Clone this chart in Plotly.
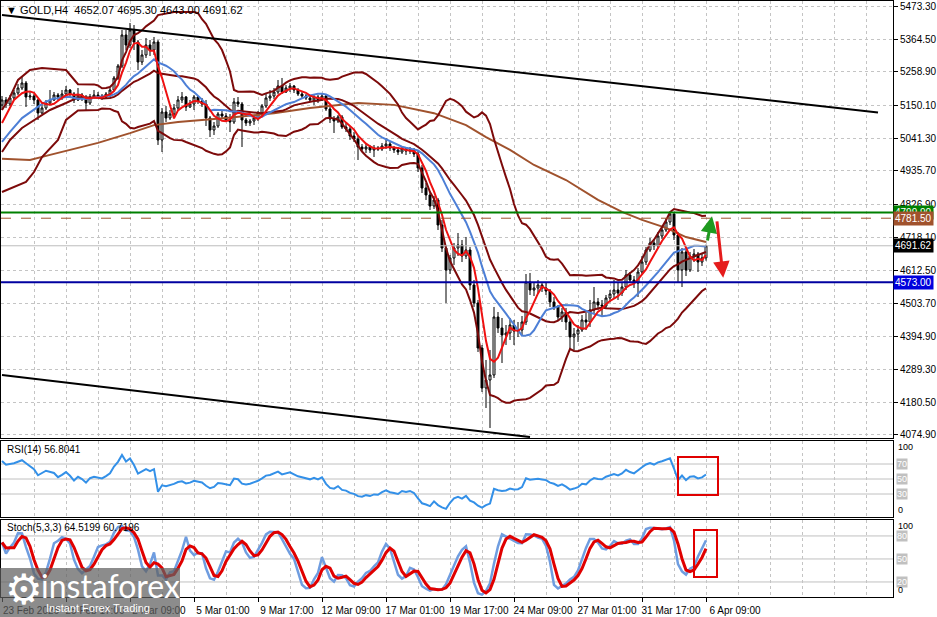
import pandas as pd
import plotly.graph_objects as go
from plotly.subplots import make_subplots

# ---------------- data (GOLD, H4) ----------------
opens = [
    5150.6, 5166.9, 5153.8, 5173.4, 5189.7, 5206.0, 5222.3, 5176.6, 5179.9, 5166.9,
    5124.5, 5140.8, 5157.1, 5166.9, 5183.2, 5176.6, 5186.4, 5199.5, 5186.4, 5166.9,
    5183.2, 5173.4, 5157.1, 5176.6, 5183.2, 5179.9, 5176.6, 5186.4, 5199.5, 5238.6,
    5277.7, 5378.8, 5346.2, 5395.1, 5355.9, 5290.7, 5313.6, 5346.2, 5329.9, 5355.9,
    5036.5, 5127.7, 5108.2, 5121.2, 5140.8, 5166.9, 5176.6, 5144.0, 5153.8, 5176.6,
    5163.6, 5153.8, 5108.2, 5069.1, 5082.1, 5121.2, 5114.7, 5101.7, 5095.1, 5160.3,
    5153.8, 5101.7, 5091.9, 5098.4, 5108.2, 5124.5, 5147.3, 5173.4, 5179.9, 5192.9,
    5212.5, 5192.9, 5206.0, 5212.5, 5199.5, 5186.4, 5179.9, 5173.4, 5166.9, 5176.6,
    5166.9, 5179.9, 5137.5, 5104.9, 5098.4, 5111.4, 5078.8, 5072.3, 5049.5, 5039.7,
    5013.6, 5007.1, 5013.6, 5003.9, 5010.4, 5007.1, 5016.9, 5023.4, 5010.4, 5003.9,
    4997.3, 5007.1, 5000.6, 5003.9, 4990.8, 4945.2, 4880.0, 4857.2, 4821.3, 4840.9,
    4759.4, 4684.4, 4612.7, 4651.8, 4684.4, 4694.2, 4658.3, 4677.9, 4563.8, 4505.1,
    4358.4, 4228.0, 4254.1, 4270.4, 4459.4, 4423.6, 4400.8, 4407.3, 4433.4, 4413.8,
    4417.1, 4443.1, 4573.5, 4547.5, 4554.0, 4563.8, 4554.0, 4544.2, 4508.4, 4492.1,
    4459.4, 4475.7, 4443.1, 4394.3, 4404.0, 4417.1, 4449.7, 4443.1, 4482.3, 4508.4,
    4498.6, 4495.3, 4521.4, 4534.4, 4547.5, 4537.7, 4557.2, 4596.4, 4580.1, 4570.3,
    4606.1, 4638.7, 4677.9, 4700.7, 4690.9, 4723.5, 4743.1, 4769.2, 4795.2, 4726.8,
    4612.7, 4671.4, 4612.7, 4658.3, 4664.8, 4638.7, 4652.07,
]
highs = [
    5179.9, 5176.6, 5183.2, 5199.5, 5219.0, 5241.8, 5228.8, 5192.9, 5186.4, 5170.1,
    5153.8, 5166.9, 5199.5, 5192.9, 5189.7, 5199.5, 5212.5, 5202.7, 5192.9, 5206.0,
    5189.7, 5183.2, 5186.4, 5199.5, 5192.9, 5186.4, 5192.9, 5206.0, 5245.1, 5284.2,
    5395.1, 5395.1, 5417.9, 5411.4, 5362.5, 5329.9, 5369.0, 5362.5, 5372.3, 5362.5,
    5140.8, 5147.3, 5134.3, 5153.8, 5179.9, 5192.9, 5179.9, 5166.9, 5183.2, 5179.9,
    5173.4, 5166.9, 5114.7, 5095.1, 5127.7, 5131.0, 5124.5, 5121.2, 5173.4, 5176.6,
    5160.3, 5108.2, 5104.9, 5114.7, 5131.0, 5153.8, 5189.7, 5199.5, 5206.0, 5232.1,
    5238.6, 5215.8, 5222.3, 5215.8, 5206.0, 5192.9, 5186.4, 5179.9, 5183.2, 5183.2,
    5189.7, 5183.2, 5144.0, 5114.7, 5118.0, 5118.0, 5091.9, 5082.1, 5062.5, 5052.8,
    5023.4, 5023.4, 5020.2, 5020.2, 5016.9, 5026.7, 5043.0, 5029.9, 5016.9, 5013.6,
    5016.9, 5013.6, 5013.6, 5010.4, 5000.6, 4955.0, 4896.3, 4867.0, 4853.9, 4847.4,
    4775.7, 4694.2, 4661.6, 4700.7, 4733.3, 4710.5, 4720.3, 4687.6, 4580.1, 4514.9,
    4368.2, 4319.3, 4351.9, 4492.1, 4475.7, 4456.2, 4433.4, 4456.2, 4449.7, 4443.1,
    4462.7, 4599.6, 4602.9, 4573.5, 4580.1, 4573.5, 4570.3, 4550.7, 4524.7, 4498.6,
    4488.8, 4488.8, 4456.2, 4423.6, 4433.4, 4465.9, 4472.5, 4514.9, 4557.2, 4521.4,
    4514.9, 4531.2, 4547.5, 4580.1, 4570.3, 4573.5, 4612.7, 4606.1, 4593.1, 4619.2,
    4658.3, 4687.6, 4717.0, 4710.5, 4736.6, 4756.1, 4782.2, 4800.0, 4797.0, 4736.6,
    4684.4, 4677.9, 4671.4, 4681.1, 4671.4, 4668.1, 4695.30,
]
lows = [
    5134.3, 5140.8, 5147.3, 5166.9, 5183.2, 5199.5, 5144.0, 5166.9, 5153.8, 5101.7,
    5121.2, 5134.3, 5150.6, 5163.6, 5166.9, 5166.9, 5179.9, 5176.6, 5157.1, 5163.6,
    5163.6, 5134.3, 5150.6, 5170.1, 5173.4, 5166.9, 5170.1, 5176.6, 5196.2, 5232.1,
    5271.2, 5329.9, 5336.4, 5329.9, 5264.7, 5280.9, 5303.8, 5310.3, 5313.6, 5020.2,
    4997.3, 5095.1, 5101.7, 5114.7, 5134.3, 5157.1, 5131.0, 5140.8, 5134.3, 5153.8,
    5144.0, 5082.1, 5046.2, 5052.8, 5075.6, 5104.9, 5095.1, 5062.5, 5088.6, 5144.0,
    5013.6, 5082.1, 5082.1, 5085.4, 5098.4, 5114.7, 5140.8, 5163.6, 5170.1, 5186.4,
    5186.4, 5189.7, 5192.9, 5189.7, 5179.9, 5173.4, 5166.9, 5160.3, 5150.6, 5157.1,
    5163.6, 5131.0, 5091.9, 5059.3, 5091.9, 5072.3, 5062.5, 5036.5, 5029.9, 4971.3,
    4997.3, 4994.1, 4994.1, 4981.0, 5000.6, 5000.6, 5007.1, 5000.6, 4994.1, 4987.6,
    4990.8, 4987.6, 4990.8, 4981.0, 4932.1, 4863.7, 4840.9, 4808.3, 4811.6, 4743.1,
    4671.4, 4505.1, 4599.6, 4629.0, 4658.3, 4638.7, 4648.5, 4547.5, 4492.1, 4345.4,
    4215.0, 4162.8, 4097.6, 4260.6, 4407.3, 4309.5, 4368.2, 4384.5, 4368.2, 4394.3,
    4400.8, 4433.4, 4531.2, 4527.9, 4537.7, 4541.0, 4531.2, 4492.1, 4482.3, 4449.7,
    4443.1, 4417.1, 4351.9, 4351.9, 4378.0, 4410.6, 4417.1, 4426.9, 4472.5, 4482.3,
    4462.7, 4488.8, 4508.4, 4521.4, 4514.9, 4527.9, 4547.5, 4570.3, 4554.0, 4524.7,
    4596.4, 4629.0, 4671.4, 4677.9, 4684.4, 4713.7, 4736.6, 4759.4, 4710.5, 4570.3,
    4557.2, 4593.1, 4606.1, 4638.7, 4606.1, 4625.7, 4643.00,
]
closes = [
    5166.9, 5153.8, 5173.4, 5189.7, 5206.0, 5222.3, 5176.6, 5179.9, 5166.9, 5124.5,
    5140.8, 5157.1, 5166.9, 5183.2, 5176.6, 5186.4, 5199.5, 5186.4, 5166.9, 5183.2,
    5173.4, 5157.1, 5176.6, 5183.2, 5179.9, 5176.6, 5186.4, 5199.5, 5238.6, 5277.7,
    5378.8, 5346.2, 5395.1, 5355.9, 5290.7, 5313.6, 5346.2, 5329.9, 5355.9, 5036.5,
    5127.7, 5108.2, 5121.2, 5140.8, 5166.9, 5176.6, 5144.0, 5153.8, 5176.6, 5163.6,
    5153.8, 5108.2, 5069.1, 5082.1, 5121.2, 5114.7, 5101.7, 5095.1, 5160.3, 5153.8,
    5101.7, 5091.9, 5098.4, 5108.2, 5124.5, 5147.3, 5173.4, 5179.9, 5192.9, 5212.5,
    5192.9, 5206.0, 5212.5, 5199.5, 5186.4, 5179.9, 5173.4, 5166.9, 5176.6, 5166.9,
    5179.9, 5137.5, 5104.9, 5098.4, 5111.4, 5078.8, 5072.3, 5049.5, 5039.7, 5013.6,
    5007.1, 5013.6, 5003.9, 5010.4, 5007.1, 5016.9, 5023.4, 5010.4, 5003.9, 4997.3,
    5007.1, 5000.6, 5003.9, 4990.8, 4945.2, 4880.0, 4857.2, 4821.3, 4840.9, 4759.4,
    4684.4, 4612.7, 4651.8, 4684.4, 4694.2, 4658.3, 4677.9, 4563.8, 4505.1, 4358.4,
    4228.0, 4254.1, 4270.4, 4459.4, 4423.6, 4400.8, 4407.3, 4433.4, 4413.8, 4417.1,
    4443.1, 4573.5, 4547.5, 4554.0, 4563.8, 4554.0, 4544.2, 4508.4, 4492.1, 4459.4,
    4475.7, 4443.1, 4394.3, 4404.0, 4417.1, 4449.7, 4443.1, 4482.3, 4508.4, 4498.6,
    4495.3, 4521.4, 4534.4, 4547.5, 4537.7, 4557.2, 4596.4, 4580.1, 4570.3, 4606.1,
    4638.7, 4677.9, 4700.7, 4690.9, 4723.5, 4743.1, 4769.2, 4795.2, 4726.8, 4612.7,
    4671.4, 4612.7, 4658.3, 4664.8, 4638.7, 4652.07, 4691.62,
]
assert len(opens) == len(highs) == len(lows) == len(closes) == 177

time_label_bars = [0, 16, 32, 48, 64, 80, 96, 112, 128, 144, 160, 176]
time_label_text = ["23 Feb 2026", "25 Feb 17:00", "2 Mar 09:00", "5 Mar 01:00",
                   "9 Mar 17:00", "12 Mar 09:00", "17 Mar 01:00", "19 Mar 17:00",
                   "24 Mar 09:00", "27 Mar 01:00", "31 Mar 17:00", "6 Apr 09:00"]
price_tick_values = [5473.30, 5364.50, 5258.90, 5150.10, 5041.30, 4935.70, 4826.90,
                     4718.10, 4612.50, 4503.70, 4394.90, 4289.30, 4180.50, 4074.90]

# long moving average (brown)
ma_long_bars = [0, 7, 12, 24, 32, 38, 44, 56, 68, 77, 89, 98, 108, 116, 121, 127,
                133, 141, 149, 155, 160, 166, 171, 176]
ma_long_vals = [4975, 4971, 4988, 5027, 5059, 5085, 5095, 5108, 5124, 5141, 5157,
                5151, 5124, 5085, 5046, 5004, 4955, 4906, 4841, 4802, 4776, 4750,
                4720, 4704]

# indicator values on the first bars, whose windows reach before the visible data
red_warm_bars = [0, 1, 2, 3]
red_warm_vals = [5091.9, 5118.0, 5144.0, 5166.9]
blue_warm_bars = [0, 2, 5, 8, 10, 12]
blue_warm_vals = [5030.0, 5063.0, 5108.0, 5134.0, 5154.0, 5167.0]
bb_up_warm_bars = [0, 2, 4, 7, 10, 16]
bb_up_warm_vals = [5134.3, 5176.6, 5232.1, 5264.7, 5271.2, 5264.7]
bb_mid_warm_bars = [0, 2, 5, 8, 12, 16]
bb_mid_warm_vals = [4997.3, 5036.5, 5075.6, 5101.7, 5134.3, 5157.1]
bb_low_warm_bars = [0, 4, 6, 8, 10, 14, 16]
bb_low_warm_vals = [4867.0, 4889.8, 4899.6, 4932.1, 4981.0, 5036.5, 5101.7]
rsi_warm_bars = [0, 1, 3, 5, 6, 8, 9, 11, 13]
rsi_warm_vals = [74, 69, 71, 75, 71, 63, 55, 61, 58]

# trend lines
upper_trend_bars = [0, 219]
upper_trend_prices = [5444.0, 5126.0]
lower_trend_bars = [0, 132]
lower_trend_prices = [4270.0, 4068.0]

# horizontal levels
level_prices = [4799.90, 4781.50, 4691.62, 4573.00]
rsi_levels = [70, 50, 30]
stoch_levels = [80, 50, 20]
rsi_header = "RSI(14) 56.8041"
stoch_header = "Stoch(5,3,3) 64.5199 60.7196"

# ---------------- indicators ----------------
bars = list(range(len(closes)))
c = pd.Series(closes, dtype=float)
h = pd.Series(highs, dtype=float)
l = pd.Series(lows, dtype=float)
sma5 = c.rolling(5).mean()
sma14 = c.rolling(14).mean()
mid20 = c.rolling(20).mean()
sd20 = c.rolling(20).std(ddof=0)
up20 = mid20 + 2 * sd20
lo20 = mid20 - 2 * sd20


def joined(wb, wv, s, start):
    return wb + bars[start:], wv + s.iloc[start:].tolist()


delta = c.diff()
gain = delta.clip(lower=0)
loss = (-delta).clip(lower=0)
ag = gain.ewm(alpha=1 / 14, adjust=True).mean()
al = loss.ewm(alpha=1 / 14, adjust=True).mean()
rsi = 100 - 100 / (1 + ag / al)

hh = h.rolling(5, min_periods=1).max()
ll = l.rolling(5, min_periods=1).min()
stk = 100 * (c - ll).rolling(3, min_periods=1).sum() / (hh - ll).rolling(3, min_periods=1).sum()
std_ = stk.rolling(3, min_periods=1).mean()

# ---------------- geometry helpers (layout only) ----------------
W, H = 937, 617
ML, MR, MT, MB = 1, 44, 1, 20
PW, PH = W - ML - MR, H - MT - MB


def py(px):
    return (H - MB - px) / PH


def pxx(px):
    return (px - ML) / PW


MAROON = "#7d0a0a"
GRID = "#c4c4c4"
FONT = "Liberation Sans, Arial, sans-serif"

fig = make_subplots(rows=3, cols=1, shared_xaxes=True, vertical_spacing=0.0)

fig.add_trace(go.Candlestick(
    x=bars, open=opens, high=highs, low=lows, close=closes,
    increasing=dict(line=dict(color="black", width=1), fillcolor="white"),
    decreasing=dict(line=dict(color="black", width=1), fillcolor="black"),
    whiskerwidth=0), row=1, col=1)

fig.add_trace(go.Scatter(x=ma_long_bars, y=ma_long_vals, mode="lines",
                         line=dict(color="#a0522d", width=2)), row=1, col=1)
for wb, wv, s, st in [(bb_up_warm_bars, bb_up_warm_vals, up20, 19),
                      (bb_mid_warm_bars, bb_mid_warm_vals, mid20, 19),
                      (bb_low_warm_bars, bb_low_warm_vals, lo20, 19)]:
    xx, yy = joined(wb, wv, s, st)
    fig.add_trace(go.Scatter(x=xx, y=yy, mode="lines", line=dict(color=MAROON, width=2)), row=1, col=1)
xx, yy = joined(blue_warm_bars, blue_warm_vals, sma14, 13)
fig.add_trace(go.Scatter(x=xx, y=yy, mode="lines", line=dict(color="#4d7fd6", width=2)), row=1, col=1)
xx, yy = joined(red_warm_bars, red_warm_vals, sma5, 4)
fig.add_trace(go.Scatter(x=xx, y=yy, mode="lines", line=dict(color="#ee1111", width=2)), row=1, col=1)
fig.add_trace(go.Scatter(x=upper_trend_bars, y=upper_trend_prices, mode="lines",
                         line=dict(color="black", width=2)), row=1, col=1)
fig.add_trace(go.Scatter(x=lower_trend_bars, y=lower_trend_prices, mode="lines",
                         line=dict(color="black", width=2)), row=1, col=1)

xx, yy = joined(rsi_warm_bars, rsi_warm_vals, rsi, 14)
fig.add_trace(go.Scatter(x=xx, y=yy, mode="lines", line=dict(color="#3390e8", width=2)), row=2, col=1)

fig.add_trace(go.Scatter(x=bars, y=stk.tolist(), mode="lines",
                         line=dict(color="#6f9de0", width=2.5)), row=3, col=1)
fig.add_trace(go.Scatter(x=bars, y=std_.tolist(), mode="lines",
                         line=dict(color="#e00000", width=3)), row=3, col=1)

# ---------------- layout ----------------
fig.update_layout(
    template="none", width=W, height=H,
    margin=dict(l=ML, r=MR, t=MT, b=MB),
    paper_bgcolor="white", plot_bgcolor="white", showlegend=False,
    font=dict(family=FONT, size=10, color="black"),
)

xr = [-0.25, 222.75]
for name in ["xaxis", "xaxis2", "xaxis3"]:
    bottom = name == "xaxis3"
    fig.layout[name].update(
        range=xr, showgrid=True, gridcolor=GRID, griddash="3px,3px", gridwidth=1,
        tickmode="array", tickvals=time_label_bars,
        ticktext=time_label_text if bottom else None,
        showticklabels=bottom, ticks="outside" if bottom else "", ticklen=4,
        tickcolor="black", tickfont=dict(size=10, family=FONT),
        showline=True, mirror=True, linecolor="black", linewidth=1, zeroline=False,
        minor=dict(tickmode="linear", tick0=0, dtick=8, showgrid=True,
                   gridcolor=GRID, griddash="3px,3px", ticks=""),
        rangeslider=dict(visible=False), fixedrange=True,
    )
fig.layout.xaxis3.ticklabelshift = 29

fig.layout.yaxis.update(
    domain=[py(438), py(1)], range=[5492.86 - 3.26 * 438, 5492.86 - 3.26 * 1],
    side="right", tickmode="array", tickvals=price_tick_values,
    ticktext=[f"{v:.2f}" for v in price_tick_values], ticks="outside", ticklen=4,
    tickcolor="black", tickfont=dict(size=10, family=FONT),
    showgrid=True, gridcolor=GRID, griddash="3px,3px",
    showline=True, mirror=True, linecolor="black", linewidth=1, zeroline=False,
    fixedrange=True,
)
fig.layout.yaxis2.update(
    domain=[py(517), py(441)], range=[-0.67, 100.67], side="right",
    showticklabels=False, ticks="", showgrid=False, zeroline=False,
    showline=True, mirror=True, linecolor="black", linewidth=1, fixedrange=True,
)
fig.layout.yaxis3.update(
    domain=[0, py(520)], range=[0.39, 100.8], side="right",
    showticklabels=False, ticks="", showgrid=False, zeroline=False,
    showline=True, mirror=True, linecolor="black", linewidth=1, fixedrange=True,
)

shapes = []
level_styles = [("#008000", 2, "solid"), ("#a0522d", 1, "10px,10px"),
                ("#bdbdbd", 1, "solid"), ("#0000a0", 2, "solid")]
for p, (col, w, d) in zip(level_prices, level_styles):
    shapes.append(dict(type="line", xref="paper", yref="y", x0=0, x1=1, y0=p, y1=p,
                       line=dict(color=col, width=w, dash=d)))
for v in rsi_levels:
    shapes.append(dict(type="line", xref="paper", yref="y2", x0=0, x1=1, y0=v, y1=v,
                       line=dict(color="#c0c0c0", width=1), layer="below"))
for v in stoch_levels:
    shapes.append(dict(type="line", xref="paper", yref="y3", x0=0, x1=1, y0=v, y1=v,
                       line=dict(color="#c0c0c0", width=1), layer="below"))
# highlight boxes
shapes.append(dict(type="rect", xref="x2", yref="y2", x0=169, x1=179, y0=28.7, y1=79.3,
                   line=dict(color="#e00000", width=2)))
shapes.append(dict(type="rect", xref="x3", yref="y3", x0=173, x1=178.75, y0=26.5, y1=87.7,
                   line=dict(color="#e00000", width=2)))
# watermark panel
shapes.append(dict(type="rect", xref="paper", yref="paper", x0=pxx(0), x1=pxx(180),
                   y0=py(617), y1=py(568), fillcolor="rgba(95,95,95,0.72)",
                   line=dict(width=0), layer="above"))
fig.update_layout(shapes=shapes)

ann = []
ann.append(dict(xref="paper", yref="paper", x=pxx(4), y=py(10), xanchor="left",
                yanchor="middle", showarrow=False,
                text=f"▼ GOLD,H4  {opens[-1]:.2f} {highs[-1]:.2f} {lows[-1]:.2f} {closes[-1]:.2f}",
                font=dict(size=11, family=FONT, color="black")))
ann.append(dict(xref="paper", yref="paper", x=pxx(5), y=py(449), xanchor="left",
                yanchor="middle", showarrow=False, text=rsi_header,
                font=dict(size=10, family=FONT)))
ann.append(dict(xref="paper", yref="paper", x=pxx(5), y=py(527), xanchor="left",
                yanchor="middle", showarrow=False, text=stoch_header,
                font=dict(size=10, family=FONT)))
tag_bg = ["#008000", "#a0522d", "#000000", "#0000dd"]
for p, bg in zip(level_prices, tag_bg):
    ann.append(dict(xref="paper", yref="y", x=1, y=p, xanchor="left", yanchor="middle",
                    showarrow=False, text=f"{p:.2f}", bgcolor=bg, borderpad=1,
                    font=dict(size=10, family=FONT, color="white")))
for v in rsi_levels:
    ann.append(dict(xref="paper", yref="y2", x=1, xshift=3, y=v, xanchor="left",
                    yanchor="middle", showarrow=False, text=str(v), bgcolor="#c0c0c0",
                    borderpad=0, font=dict(size=9, family=FONT, color="white")))
for v in stoch_levels:
    ann.append(dict(xref="paper", yref="y3", x=1, xshift=3, y=v, xanchor="left",
                    yanchor="middle", showarrow=False, text=str(v), bgcolor="#c0c0c0",
                    borderpad=0, font=dict(size=9, family=FONT, color="white")))
for yr, v, t in [("y2", 92.7, "100"), ("y2", 8.7, "0"), ("y3", 93.0, "100"), ("y3", 9.5, "0")]:
    ann.append(dict(xref="paper", yref=yr, x=1, xshift=3, y=v, xanchor="left",
                    yanchor="middle", showarrow=False, text=t,
                    font=dict(size=9, family=FONT, color="black")))
# forecast arrows
ann.append(dict(xref="x", yref="y", axref="x", ayref="y", x=177.5, y=4788, ax=176.3, ay=4704,
                text="", showarrow=True, arrowhead=2, arrowsize=1.1, arrowwidth=3,
                arrowcolor="#1f9a1f"))
ann.append(dict(xref="x", yref="y", axref="x", ayref="y", x=180.3, y=4587, ax=178.7, ay=4776,
                text="", showarrow=True, arrowhead=2, arrowsize=1.1, arrowwidth=3,
                arrowcolor="#e51c1c"))
# watermark texts
ann.append(dict(xref="paper", yref="paper", x=pxx(24), y=py(589), xanchor="center",
                yanchor="middle", showarrow=False,
                text="⚙", font=dict(size=42, family="DejaVu Sans", color="white")))
ann.append(dict(xref="paper", yref="paper", x=pxx(110), y=py(585), xanchor="center",
                yanchor="middle", showarrow=False,
                text="instaforex", font=dict(size=32, family="Lato", color="white")))
ann.append(dict(xref="paper", yref="paper", x=pxx(98), y=py(608), xanchor="center",
                yanchor="middle", showarrow=False,
                text="Instant Forex Trading", font=dict(size=11, family=FONT, color="white")))
fig.update_layout(annotations=ann)

fig.write_html("out.html", config={"displayModeBar": False},
               post_script="document.body.style.margin='0px';")
